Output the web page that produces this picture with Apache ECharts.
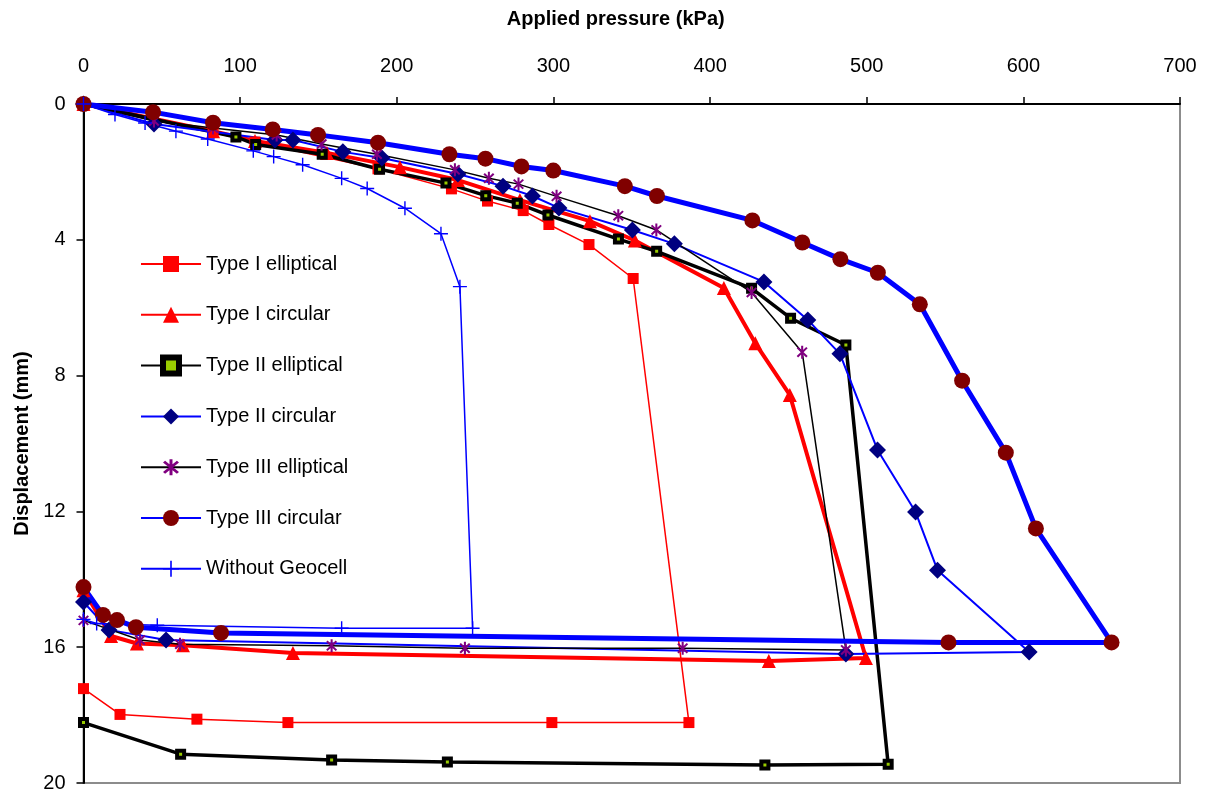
<!DOCTYPE html>
<html>
<head>
<meta charset="utf-8">
<script src="https://cdn.jsdelivr.net/npm/echarts@6/dist/echarts.min.js"></script>
<style>
html,body{margin:0;padding:0;background:#fff;}
#chart{width:1209px;height:797px;}
</style>
</head>
<body>
<div id="chart"></div>
<script>
// ---- Data (Applied pressure kPa, Displacement mm) ----
var xTicks = [0, 100, 200, 300, 400, 500, 600, 700];
var yTicks = [0, 4, 8, 12, 16, 20];

var seriesNames = ["Type I elliptical", "Type I circular", "Type II elliptical", "Type II circular",
                   "Type III elliptical", "Type III circular", "Without Geocell"];

var typeIEllipticalP = [0, 82.7, 109.5, 188.0, 234.9, 257.9, 280.7, 297.1, 322.7, 350.9, 386.5, 299.0, 130.5, 72.4, 23.3, 0];
var typeIEllipticalD = [0, 0.77, 1.12, 1.91, 2.50, 2.86, 3.14, 3.55, 4.14, 5.14, 18.22, 18.22, 18.22, 18.12, 17.98, 17.22];

var typeICircularP = [0, 82.7, 109.5, 155.4, 202.0, 239.0, 278.6, 323.3, 352.0, 408.8, 428.9, 450.9, 499.5, 437.5, 133.7, 63.5, 34.1, 17.6, 0];
var typeICircularD = [0, 0.80, 1.09, 1.44, 1.86, 2.24, 2.83, 3.45, 4.02, 5.42, 7.05, 8.57, 16.32, 16.41, 16.17, 15.94, 15.89, 15.67, 14.32];

var typeIIEllipticalP = [0, 97.3, 109.9, 152.4, 189.0, 231.4, 256.8, 276.9, 296.5, 341.5, 365.9, 426.5, 451.4, 486.7, 513.7, 435.0, 232.3, 158.4, 62.0, 0];
var typeIIEllipticalD = [0, 0.97, 1.19, 1.48, 1.92, 2.33, 2.70, 2.92, 3.27, 3.98, 4.34, 5.43, 6.31, 7.10, 19.45, 19.47, 19.38, 19.32, 19.15, 18.22];

var typeIICircularP = [0, 45.0, 122.2, 133.7, 165.6, 190.5, 239.0, 267.8, 286.6, 303.5, 350.4, 377.2, 434.4, 462.4, 482.9, 506.9, 531.2, 545.2, 603.7, 486.7, 52.7, 16.3, 0];
var typeIICircularD = [0, 0.59, 1.06, 1.06, 1.41, 1.59, 2.06, 2.42, 2.71, 3.06, 3.71, 4.12, 5.24, 6.36, 7.36, 10.19, 12.02, 13.73, 16.14, 16.20, 15.79, 15.49, 14.67];

var typeIIIEllipticalP = [0, 45.0, 82.7, 123.3, 152.0, 187.3, 237.1, 258.8, 277.7, 302.0, 341.4, 365.7, 426.5, 458.8, 486.7, 382.5, 243.5, 158.4, 61.6, 36.1, 0];
var typeIIIEllipticalD = [0, 0.50, 0.71, 0.91, 1.18, 1.48, 1.94, 2.19, 2.36, 2.72, 3.29, 3.71, 5.55, 7.31, 16.08, 16.03, 16.03, 15.96, 15.91, 15.79, 15.21];

var typeIIICircularP = [0, 44.4, 82.7, 120.8, 149.7, 188.0, 233.6, 256.6, 279.6, 299.9, 345.6, 366.1, 427.0, 458.9, 483.2, 507.1, 533.9, 560.9, 588.8, 608.0, 656.3, 552.2, 87.8, 33.5, 21.4, 12.4, 0];
var typeIIICircularD = [0, 0.24, 0.55, 0.75, 0.91, 1.14, 1.48, 1.61, 1.84, 1.96, 2.42, 2.71, 3.43, 4.08, 4.57, 4.97, 5.90, 8.15, 10.27, 12.50, 15.86, 15.86, 15.58, 15.41, 15.20, 15.05, 14.23];

var withoutGeocellP = [0, 20.1, 39.3, 59.0, 79.3, 108.4, 121.4, 139.9, 164.8, 181.1, 205.2, 228.2, 240.3, 248.4, 164.8, 47.1, 8.4, 0];
var withoutGeocellD = [0, 0.31, 0.56, 0.80, 1.03, 1.38, 1.55, 1.79, 2.19, 2.49, 3.07, 3.82, 5.38, 15.44, 15.44, 15.35, 15.30, 15.18];

// ---- helpers ----
function pairs(xs, ys) {
  var out = [];
  for (var i = 0; i < xs.length; i++) out.push([xs[i], ys[i]]);
  return out;
}

var FONT = "'Liberation Sans', Arial, sans-serif";
var plusPath = 'path://M-1,-10 L1,-10 L1,-1 L10,-1 L10,1 L1,1 L1,10 L-1,10 L-1,1 L-10,1 L-10,-1 L-1,-1 Z';
var starPath = 'path://M-1.5,-10 L1.5,-10 L1.5,10 L-1.5,10 Z ' +
               'M-5.94,-8.06 L8.06,5.94 L5.94,8.06 L-8.06,-5.94 Z ' +
               'M5.94,-8.06 L8.06,-5.94 L-5.94,8.06 L-8.06,5.94 Z';

function mk(name, xs, ys, lineColor, lineWidth, symbol, symbolSize, itemStyle) {
  return {
    name: name,
    type: 'line',
    data: pairs(xs, ys),
    symbol: symbol,
    symbolSize: symbolSize,
    showAllSymbol: true,
    lineStyle: { color: lineColor, width: lineWidth },
    itemStyle: itemStyle,
    emphasis: { disabled: true },
    clip: false
  };
}

var series = [
  mk(seriesNames[0], typeIEllipticalP, typeIEllipticalD, '#FF0000', 1.5, 'rect', 11, { color: '#FF0000' }),
  mk(seriesNames[1], typeICircularP, typeICircularD, '#FF0000', 4, 'triangle', 14, { color: '#FF0000' }),
  mk(seriesNames[2], typeIIEllipticalP, typeIIEllipticalD, '#000000', 3.5, 'rect', 7, { color: '#99CC00', borderColor: '#000000', borderWidth: 4 }),
  mk(seriesNames[3], typeIICircularP, typeIICircularD, '#0000FF', 2, 'diamond', 17, { color: '#000080' }),
  mk(seriesNames[4], typeIIIEllipticalP, typeIIIEllipticalD, '#000000', 1.5, starPath, [11, 13], { color: '#800080' }),
  mk(seriesNames[5], typeIIICircularP, typeIIICircularD, '#0000FF', 5, 'circle', 16, { color: '#800000' }),
  mk(seriesNames[6], withoutGeocellP, withoutGeocellD, '#0000FF', 1.5, plusPath, 14, { color: '#0000FF' })
];

var legendData = seriesNames.map(function (n, i) {
  if (i === 2) return { name: n, itemStyle: { borderWidth: 6, borderColor: '#000000', color: '#99CC00' } };
  return { name: n };
});

var chart = echarts.init(document.getElementById('chart'), null, { renderer: 'canvas' });
chart.setOption({
  animation: false,
  backgroundColor: '#ffffff',
  textStyle: { fontFamily: FONT },
  grid: {
    left: 83.5, top: 104, width: 1096.5, height: 679,
    show: true, borderColor: '#8c8c8c', borderWidth: 2, backgroundColor: 'transparent'
  },
  legend: {
    orient: 'vertical',
    left: 135,
    top: 247,
    itemWidth: 60,
    itemHeight: 20,
    itemGap: 26.8,
    data: legendData,
    textStyle: { fontSize: 20, color: '#000', fontFamily: FONT, lineHeight: 24 },
    selectedMode: false
  },
  xAxis: {
    type: 'value',
    position: 'top',
    min: xTicks[0], max: xTicks[xTicks.length - 1], interval: 100,
    name: 'Applied pressure (kPa)',
    nameLocation: 'middle',
    nameGap: 75,
    nameTextStyle: { fontSize: 20, fontWeight: 'bold', color: '#000', fontFamily: FONT, padding: [0, 32, 0, 0] },
    axisLine: { show: true, onZero: false, lineStyle: { color: '#000', width: 2 } },
    axisTick: { show: true, inside: false, length: 7, lineStyle: { color: '#000', width: 1.5 } },
    axisLabel: { fontSize: 20, color: '#000', margin: 28, fontFamily: FONT },
    splitLine: { show: false }
  },
  yAxis: {
    type: 'value',
    inverse: true,
    min: yTicks[0], max: yTicks[yTicks.length - 1], interval: 4,
    name: 'Displacement (mm)',
    nameLocation: 'middle',
    nameGap: 43,
    nameTextStyle: { fontSize: 20, fontWeight: 'bold', color: '#000', fontFamily: FONT },
    axisLine: { show: true, onZero: false, lineStyle: { color: '#000', width: 2 } },
    axisTick: { show: true, inside: false, length: 7, lineStyle: { color: '#000', width: 1.5 } },
    axisLabel: { fontSize: 20, color: '#000', margin: 18, fontFamily: FONT },
    splitLine: { show: false }
  },
  series: series
});
</script>
</body>
</html>
